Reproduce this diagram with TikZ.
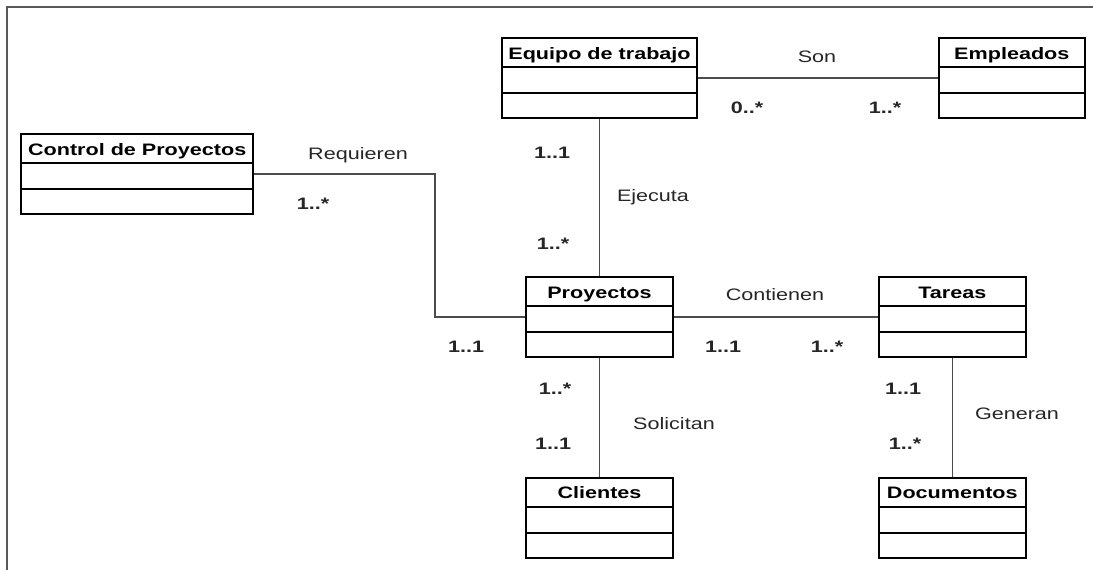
\documentclass[tikz,border=0pt]{standalone}
\usepackage{fontspec}
\setmainfont[FakeStretch=1.3]{Liberation Sans}
\usetikzlibrary{positioning}
\newcommand{\diagfont}{\fontsize{8.3pt}{10pt}\selectfont}

\begin{document}
\begin{tikzpicture}[
    x=0.5pt, y=-0.5pt,
    font=\diagfont,
    class/.style={draw, line width=0.9pt, minimum width=#1,
        inner xsep=0pt, inner ysep=0pt,
        text height=10.5pt, text depth=29.5pt,
        font=\diagfont\bfseries,
        path picture={
            \draw[line width=0.9pt] ([yshift=-14.5pt]path picture bounding box.north west) -- ([yshift=-14.5pt]path picture bounding box.north east);
            \draw[line width=0.9pt] ([yshift=-27.5pt]path picture bounding box.north west) -- ([yshift=-27.5pt]path picture bounding box.north east);
        }},
    class/.default=73.5pt,
    assoc/.style={draw=black!70, line width=0.8pt},
    mult/.style={font=\diagfont\bfseries, text=black!85, text height=6pt, text depth=0pt, inner sep=0pt},
    verb/.style={text=black!85, text height=6pt, text depth=0pt, inner sep=0pt}
]
\useasboundingbox (0,0) rectangle (1093,570);

% marco
\draw[black!65, line width=1pt] (7,570) -- (7,7) -- (1093,7);

% clases
\node[class] (proy) at (599.5,317) {Proyectos};
\node[class=97.5pt] (equipo) [above=78.5pt of proy] {Equipo de trabajo};
\node[class=73pt] (emple) [right=120pt of equipo] {Empleados};
\node[class=116pt] (ctrl) [above left=30.5pt and 135.5pt of proy] {Control de Proyectos};
\node[class] (tareas) [right=102pt of proy] {Tareas};
\node[class] (clientes) [below=59.5pt of proy] {Clientes};
\node[class] (docs) [below=59.5pt of tareas] {Documentos};

% asociaciones
\coordinate (reqbend) at (435,317);
\draw[assoc] (ctrl.east) -- (ctrl.east -| reqbend) |- (proy.west);
\draw[assoc] (equipo) -- (emple);
\draw[assoc] (equipo) -- (proy);
\draw[assoc] (proy) -- (tareas);
\draw[assoc] (proy) -- (clientes);
\draw[assoc] (tareas) -- (docs);

% nombres y multiplicidades
\node[verb] (requieren) at (358,153) {Requieren};
\node[mult] (mReqCtrl) at (313,203) {1..*};
\node[mult] (mReqProy) at (466,346) {1..1};

\node[verb] (son) at (817,56) {Son};
\node[mult] (mSonEquipo) at (747,107) {0..*};
\node[mult] (mSonEmple) at (885,107) {1..*};

\node[verb] (ejecuta) at (653,195) {Ejecuta};
\node[mult] (mEjeEquipo) at (552,152) {1..1};
\node[mult] (mEjeProy) at (553,243) {1..*};

\node[verb] (contienen) at (775,294) {Contienen};
\node[mult] (mConProy) at (723,346) {1..1};
\node[mult] (mConTareas) at (827,346) {1..*};

\node[verb] (solicitan) at (674,423) {Solicitan};
\node[mult] (mSolProy) at (555,388) {1..*};
\node[mult] (mSolClientes) at (553,443) {1..1};

\node[verb] (generan) at (1017,413) {Generan};
\node[mult] (mGenTareas) at (903,388) {1..1};
\node[mult] (mGenDocs) at (905,443) {1..*};

\end{tikzpicture}
\end{document}
